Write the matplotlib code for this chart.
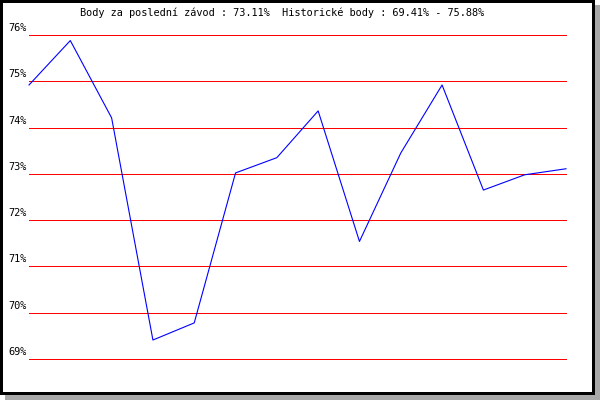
import matplotlib
matplotlib.use("Agg")
import matplotlib.pyplot as plt
from matplotlib.patches import Rectangle

title = "Body za poslední závod : 73.11%  Historické body : 69.41% - 75.88%"
values = [74.92, 75.88, 74.21, 69.41, 69.78, 73.02, 73.35, 74.36, 71.54,
          73.45, 74.92, 72.65, 72.98, 73.11]
y_ticks = [69, 70, 71, 72, 73, 74, 75, 76]
y_labels = ["69%", "70%", "71%", "72%", "73%", "74%", "75%", "76%"]

W, H = 600, 400
fig = plt.figure(figsize=(6, 4), dpi=100)
fig.patch.set_facecolor("white")

# background frame axes in pixel coords
bg = fig.add_axes([0, 0, 1, 1])
bg.set_xlim(0, W)
bg.set_ylim(H, 0)
bg.axis("off")
bg.add_patch(Rectangle((5, 5), 595, 395, facecolor="#a8a8a8", edgecolor="none"))
bg.add_patch(Rectangle((0, 0), 595, 395, facecolor="black", edgecolor="none"))
bg.add_patch(Rectangle((3, 3), 589, 389, facecolor="white", edgecolor="none"))

mono = "DejaVu Sans Mono"
bg.text(282, 13, title, ha="center", va="center", fontsize=7.4, family=mono)

x0, x1 = 29, 566
ytop, ybot = 35, 359
ax = fig.add_axes([x0 / W, (H - ybot) / H, (x1 - x0) / W, (ybot - ytop) / H])
ax.patch.set_alpha(0)
ax.set_xlim(0, len(values) - 1)
ax.set_ylim(y_ticks[0], y_ticks[-1])
for s in ax.spines.values():
    s.set_visible(False)
ax.set_xticks([])
ax.set_yticks([])
for t in y_ticks:
    ax.axhline(t, color="#ff0000", lw=0.72, antialiased=False, zorder=1,
               clip_on=False)
ax.plot(range(len(values)), values, color="#0000ff", lw=0.8, zorder=2,
        clip_on=False)

for t, lab in zip(y_ticks, y_labels):
    ax.annotate(lab, xy=(0, t), xycoords=("axes fraction", "data"),
                xytext=(-2, 2), textcoords="offset pixels",
                ha="right", va="bottom", fontsize=7.4, family=mono)

fig.savefig("out.png", dpi=100)
